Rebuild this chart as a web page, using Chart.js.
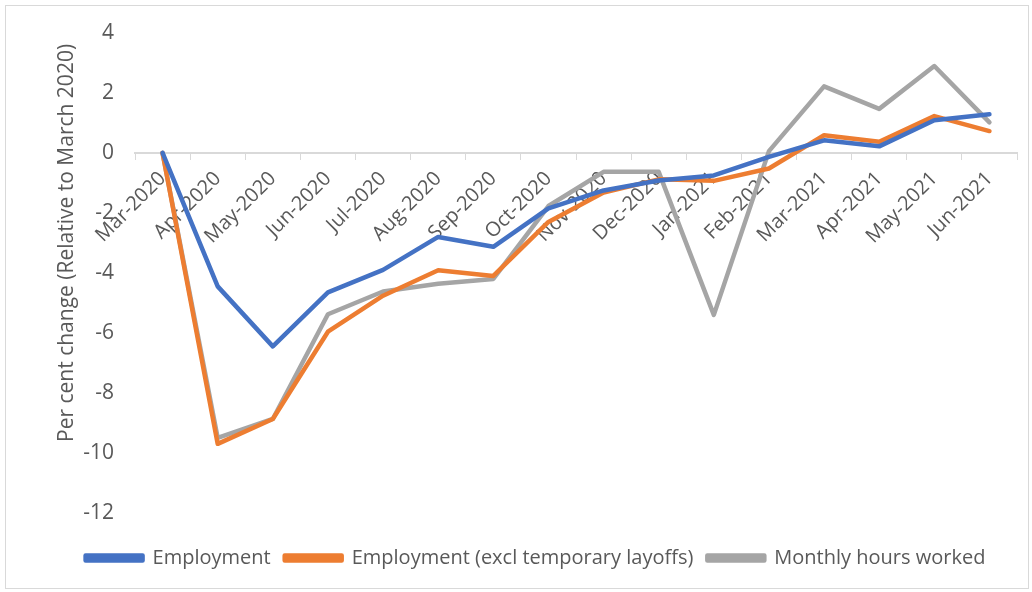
<!DOCTYPE html>
<html>
<head>
<meta charset="utf-8">
<script src="https://cdn.jsdelivr.net/npm/chart.js@4"></script>
<style>
  body { margin: 0; background: #fff; }
  #wrap { position: absolute; left: 5px; top: 5px; width: 1022px; height: 582px; border: 1px solid #d9d9d9; }
  canvas { display: block; }
</style>
</head>
<body>
<div id="wrap"><canvas id="grafico" width="1022" height="582"></canvas></div>
<script>
// categorias y series
const meses = ['Mar-2020', 'Apr-2020', 'May-2020', 'Jun-2020', 'Jul-2020', 'Aug-2020', 'Sep-2020', 'Oct-2020',
    'Nov-2020', 'Dec-2020', 'Jan-2021', 'Feb-2021', 'Mar-2021', 'Apr-2021', 'May-2021', 'Jun-2021'];
const empleo = [0, -4.45, -6.45, -4.65, -3.9, -2.8, -3.13, -1.85, -1.25, -0.92, -0.75, -0.13, 0.42, 0.22, 1.09, 1.29];
const empleoSinLayoffs = [0, -9.7, -8.87, -5.96, -4.76, -3.91, -4.1, -2.3, -1.32, -0.88, -0.93, -0.52, 0.59, 0.37, 1.23, 0.73];
const horas = [0, -9.5, -8.87, -5.38, -4.62, -4.36, -4.2, -1.77, -0.63, -0.63, -5.4, 0.06, 2.22, 1.47, 2.9, 1.02];

const gris = '#595959';

const ctx = document.getElementById('grafico').getContext('2d');
const grafico = new Chart(ctx, {
    type: 'line',
    data: {
        labels: meses,
        datasets: [
            { label: 'Employment', data: empleo, borderColor: '#4472C4', backgroundColor: '#4472C4' },
            { label: 'Employment (excl temporary layoffs)', data: empleoSinLayoffs, borderColor: '#ED7D31', backgroundColor: '#ED7D31' },
            { label: 'Monthly hours worked', data: horas, borderColor: '#A5A5A5', backgroundColor: '#A5A5A5' }
        ]
    },
    options: {
        responsive: false,
        animation: false,
        elements: {
            line: { borderWidth: 4.5, tension: 0, borderJoinStyle: 'round', borderCapStyle: 'round' },
            point: { radius: 0 }
        },
        layout: { padding: { top: 27, right: 11, bottom: 10, left: 48 } },
        plugins: {
            tooltip: { enabled: false },
            legend: {
                position: 'bottom',
                title: { display: true, text: ' ', font: { size: 1 }, padding: { top: 0, bottom: 20 } },
                labels: {
                    color: gris,
                    font: { family: 'Open Sans', size: 20 },
                    boxWidth: 57,
                    boxHeight: 5,
                    padding: 14
                }
            }
        },
        scales: {
            x: {
                position: { y: 0 },
                offset: true,
                grid: { offset: true, drawOnChartArea: false, drawTicks: true, tickLength: 6, color: '#d9d9d9' },
                border: { color: '#d9d9d9', width: 2 },
                ticks: {
                    color: gris,
                    font: { family: 'Open Sans', size: 20 },
                    minRotation: 45,
                    maxRotation: 45,
                    autoSkip: false,
                    padding: 8
                }
            },
            y: {
                min: -12,
                max: 4,
                grid: { display: false },
                border: { display: false },
                ticks: {
                    stepSize: 2,
                    color: gris,
                    font: { family: 'Open Sans', size: 21 },
                    padding: 13
                },
                title: {
                    display: true,
                    text: 'Per cent change (Relative to March 2020)  ',
                    align: 'end',
                    color: gris,
                    font: { family: 'Open Sans', size: 21, weight: 'normal' },
                    padding: { top: 0, bottom: 10 }
                },
                afterFit: function(escala) { escala.width = 81; }
            }
        }
    }
});
</script>
</body>
</html>
